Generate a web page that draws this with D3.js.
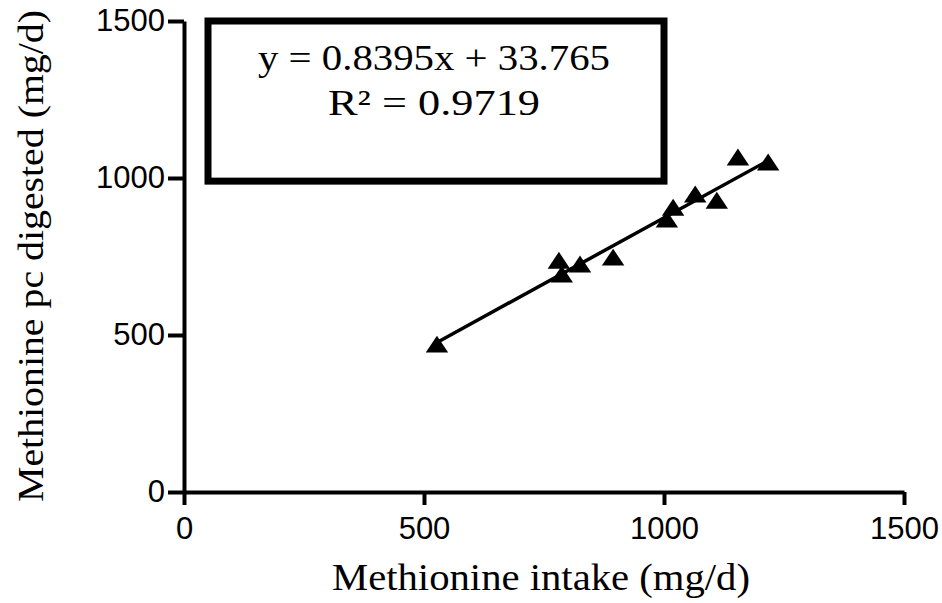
<!DOCTYPE html>
<html>
<head>
<meta charset="utf-8">
<script src="https://cdn.jsdelivr.net/npm/d3@7"></script>
<style>
  body { margin: 0; background: #fff; }
</style>
</head>
<body>
<script>
// methionine intake (mg/d) and methionine pc digested (mg/d)
var intake   = [527, 787, 781, 825, 894, 1006, 1019, 1065, 1110, 1154, 1217];
var digested = [462, 685, 729, 717, 739, 860, 898, 940, 920, 1058, 1042];
var xTicks = [0, 500, 1000, 1500];
var yTicks = [0, 500, 1000, 1500];
var slope = 0.8395, intercept = 33.765;
var eqLines = ["y = 0.8395x + 33.765", "R\u00b2 = 0.9719"];

var width = 942, height = 603;
var margins = { top: 21, bottom: 111, left: 184, right: 38 };
var serif = "Liberation Serif, Times New Roman, serif";

var svg = d3.select("body").append("svg")
  .attr("width", width)
  .attr("height", height);

var xScale = d3.scaleLinear()
  .domain([0, 1500])
  .range([margins.left, width - margins.right]);
var yScale = d3.scaleLinear()
  .domain([0, 1500])
  .range([height - margins.bottom, margins.top]);

// axes
var xAxis = svg.append("g")
  .attr("transform", "translate(0," + yScale(0) + ")")
  .call(d3.axisBottom(xScale).tickValues(xTicks).tickFormat(d3.format("d"))
    .tickSize(13).tickPadding(12).tickSizeOuter(0));
var yAxis = svg.append("g")
  .attr("transform", "translate(" + xScale(0) + ",0)")
  .call(d3.axisLeft(yScale).tickValues(yTicks).tickFormat(d3.format("d"))
    .tickSize(16).tickPadding(3).tickSizeOuter(0));

[xAxis, yAxis].forEach(function(ax){
  ax.select(".domain").attr("stroke", "#000").attr("stroke-width", 4);
  ax.selectAll(".tick line").attr("stroke", "#000").attr("stroke-width", 4);
  ax.selectAll(".tick text")
    .attr("fill", "#000")
    .attr("font-family", "Liberation Sans, Arial, sans-serif")
    .attr("font-size", 31);
});

// equation box
var boxX = [50, 1000], boxY = [990, 1500];
svg.append("rect")
  .attr("x", xScale(boxX[0]))
  .attr("y", yScale(boxY[1]))
  .attr("width", xScale(boxX[1]) - xScale(boxX[0]))
  .attr("height", yScale(boxY[0]) - yScale(boxY[1]))
  .attr("fill", "none")
  .attr("stroke", "#000")
  .attr("stroke-width", 7);

svg.selectAll(".eq")
  .data(eqLines)
  .enter().append("text")
  .attr("class", "eq")
  .attr("x", 434)
  .attr("y", function(d, i){ return 70 + i * 45; })
  .attr("text-anchor", "middle")
  .attr("font-family", serif)
  .attr("font-size", 35)
  .attr("textLength", function(d, i){ return i === 0 ? 352 : 212; })
  .attr("lengthAdjust", "spacingAndGlyphs")
  .text(function(d){ return d; });

// regression line
var ext = d3.extent(intake);
svg.append("line")
  .attr("x1", xScale(ext[0]))
  .attr("y1", yScale(slope * ext[0] + intercept))
  .attr("x2", xScale(ext[1]))
  .attr("y2", yScale(slope * ext[1] + intercept))
  .attr("stroke", "#000")
  .attr("stroke-width", 3.5);

// points
var tri = d3.symbol().type(d3.symbolTriangle).size(165);
svg.selectAll(".pt")
  .data(intake)
  .enter().append("path")
  .attr("class", "pt")
  .attr("d", tri)
  .attr("transform", function(d, i){ return "translate(" + xScale(d) + "," + yScale(digested[i]) + ") scale(1.15,1)"; })
  .attr("fill", "#000");

// axis titles
svg.append("text")
  .attr("x", 541)
  .attr("y", 590)
  .attr("text-anchor", "middle")
  .attr("font-family", serif)
  .attr("font-size", 37)
  .attr("textLength", 418)
  .attr("lengthAdjust", "spacingAndGlyphs")
  .text("Methionine intake (mg/d)");

svg.append("text")
  .attr("transform", "translate(43,256) rotate(-90)")
  .attr("text-anchor", "middle")
  .attr("font-family", serif)
  .attr("font-size", 36)
  .attr("textLength", 492)
  .attr("lengthAdjust", "spacingAndGlyphs")
  .text("Methionine pc digested (mg/d)");
</script>
</body>
</html>
